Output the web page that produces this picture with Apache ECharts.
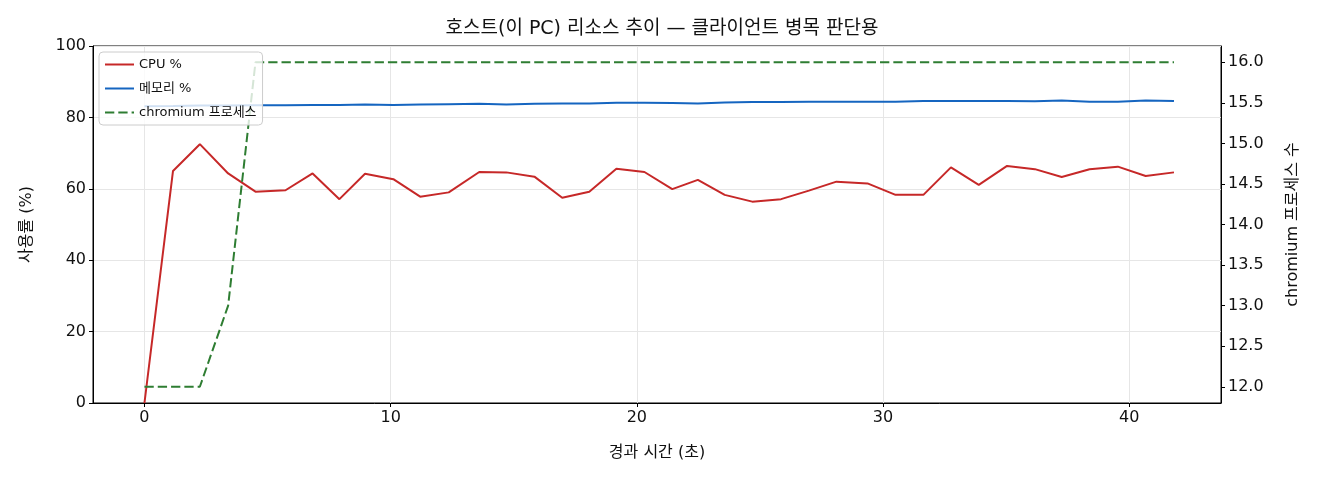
<!DOCTYPE html>
<html>
<head>
<meta charset="utf-8">
<script src="https://cdn.jsdelivr.net/npm/echarts@6/dist/echarts.min.js"></script>
<style>
  html, body { margin: 0; padding: 0; background: #fff; }
  #main-chart { width: 1320px; height: 480px; }
</style>
</head>
<body>
<div id="main-chart"></div>
<script>
// 경과 시간 (초)
const times = [0, 1.16, 2.25, 3.4, 4.51, 5.73, 6.83, 7.92, 8.96, 10.11, 11.2, 12.36, 13.6, 14.7, 15.84, 16.97, 18.07, 19.17, 20.31, 21.44,
    22.48, 23.57, 24.69, 25.86, 26.99, 28.11, 29.37, 30.51, 31.64, 32.76, 33.89, 35.04, 36.17, 37.26, 38.39, 39.54, 40.67, 41.82];
const cpuValues = [0, 65.0, 72.5, 64.3, 59.2, 59.6, 64.3, 57.1, 64.2, 62.7, 57.8, 59.0, 64.7, 64.6, 63.4, 57.5, 59.2, 65.6, 64.7, 59.9,
    62.5, 58.3, 56.4, 57.1, 59.5, 62.0, 61.5, 58.3, 58.3, 66.0, 61.1, 66.4, 65.5, 63.3, 65.5, 66.2, 63.6, 64.6];
const memValues = [83.1, 83.2, 83.3, 83.3, 83.4, 83.4, 83.5, 83.5, 83.6, 83.5, 83.6, 83.7, 83.8, 83.6, 83.8, 83.9, 83.9, 84.1, 84.1, 84.0,
    83.9, 84.2, 84.3, 84.3, 84.4, 84.4, 84.4, 84.4, 84.6, 84.6, 84.6, 84.6, 84.5, 84.7, 84.4, 84.4, 84.7, 84.6];
const procValues = [12, 12, 12, 13, 16, 16, 16, 16, 16, 16, 16, 16, 16, 16, 16, 16, 16, 16, 16, 16,
    16, 16, 16, 16, 16, 16, 16, 16, 16, 16, 16, 16, 16, 16, 16, 16, 16, 16];
const xTicks = [0, 10, 20, 30, 40];
const rightTicks = [12, 12.5, 13, 13.5, 14, 14.5, 15, 15.5, 16];

const FONT = '"DejaVu Sans", "Noto Sans CJK KR", sans-serif';

const pairs = (vals) => times.map((t, i) => [t, vals[i]]);

const myChart = echarts.init(document.getElementById('main-chart'));

const option = {
    animation: false,
    textStyle: { fontFamily: FONT, color: '#111' },
    title: {
        text: '호스트(이 PC) 리소스 추이 — 클라이언트 병목 판단용',
        left: 657,
        textAlign: 'center',
        top: 15,
        textStyle: { fontFamily: FONT, fontSize: 19, fontWeight: 'normal', color: '#111' },
    },
    grid: { left: 93, right: 99, top: 46, bottom: 77, show: true, borderColor: '#000', borderWidth: 1 },
    legend: {
        orient: 'vertical',
        left: 99,
        top: 52,
        padding: [6, 6, 6, 5],
        itemWidth: 29,
        itemHeight: 12,
        itemGap: 11,
        backgroundColor: 'rgba(255,255,255,0.8)',
        borderColor: '#cccccc',
        borderWidth: 1,
        borderRadius: 4,
        itemStyle: { opacity: 0 },
        textStyle: { fontFamily: FONT, fontSize: 13, color: '#111' },
        data: ['CPU %', '메모리 %', 'chromium 프로세스'],
    },
    xAxis: {
        type: 'value',
        min: -2.09,
        max: 43.73,
        name: '경과 시간 (초)',
        nameLocation: 'middle',
        nameGap: 42,
        nameTextStyle: { fontFamily: FONT, fontSize: 16, color: '#111' },
        axisLine: { show: true, onZero: false, lineStyle: { color: '#000', width: 1 } },
        axisTick: { show: true, length: 4, lineStyle: { color: '#000' }, customValues: xTicks },
        axisLabel: { fontSize: 16, color: '#111', margin: 7, customValues: xTicks },
        splitLine: { show: true, lineStyle: { color: '#e6e6e6', width: 1 } },
    },
    yAxis: [{
        type: 'value',
        min: 0,
        max: 100,
        interval: 20,
        name: '사용률 (%)',
        nameLocation: 'middle',
        nameRotate: 90,
        nameGap: 58,
        nameTextStyle: { fontFamily: FONT, fontSize: 16, color: '#111' },
        axisLine: { show: true, onZero: false, lineStyle: { color: '#000', width: 1 } },
        axisTick: { show: true, length: 4, lineStyle: { color: '#000' } },
        axisLabel: { fontSize: 16, color: '#111', margin: 7 },
        splitLine: { show: true, lineStyle: { color: '#e6e6e6', width: 1 } },
    }, {
        type: 'value',
        min: 11.8,
        max: 16.2,
        position: 'right',
        name: 'chromium 프로세스 수',
        nameLocation: 'middle',
        nameRotate: 90,
        nameGap: 64,
        nameTextStyle: { fontFamily: FONT, fontSize: 16, color: '#111' },
        axisLine: { show: true, onZero: false, lineStyle: { color: '#000', width: 1 } },
        axisTick: { show: true, length: 4, lineStyle: { color: '#000' }, customValues: rightTicks },
        axisLabel: {
            fontSize: 16, color: '#111', margin: 7, customValues: rightTicks,
            formatter: (v) => v.toFixed(1),
        },
        splitLine: { show: false },
    }],
    series: [{
        name: 'CPU %',
        type: 'line',
        yAxisIndex: 0,
        showSymbol: false,
        symbol: 'none',
        color: '#c62828',
        lineStyle: { color: '#c62828', width: 2 },
        data: pairs(cpuValues),
    }, {
        name: '메모리 %',
        type: 'line',
        yAxisIndex: 0,
        showSymbol: false,
        symbol: 'none',
        color: '#1565c0',
        lineStyle: { color: '#1565c0', width: 2 },
        data: pairs(memValues),
    }, {
        name: 'chromium 프로세스',
        type: 'line',
        yAxisIndex: 1,
        showSymbol: false,
        symbol: 'none',
        color: '#2e7d32',
        lineStyle: { color: '#2e7d32', width: 2, type: [9.3, 4] },
        data: pairs(procValues),
    }]
};

myChart.setOption(option);
</script>
</body>
</html>
